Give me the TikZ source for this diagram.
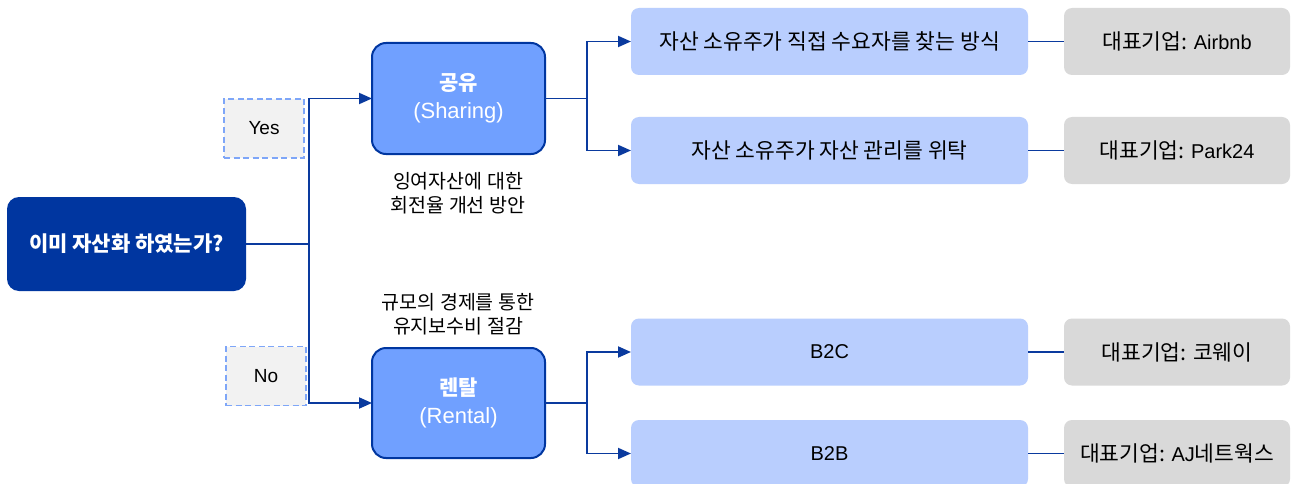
\documentclass[tikz,border=0pt]{standalone}
\usepackage{fontspec}
\setmainfont{Noto Sans CJK KR}
\newfontfamily\lat{Liberation Sans}
\usetikzlibrary{arrows.meta}
\definecolor{dblue}{HTML}{0036A0}
\definecolor{lineblue}{HTML}{0A3A9E}
\definecolor{midblue}{HTML}{70A0FF}
\definecolor{lightblue}{HTML}{B9CEFE}
\definecolor{graybox}{HTML}{D9D9D9}
\definecolor{dashblue}{HTML}{7EA6F8}
\definecolor{lbgray}{HTML}{F2F2F2}
\newcommand\latt[1]{{\lat\fontsize{20}{24}\selectfont #1}}
\tikzset{
  base/.style={outer sep=0pt, inner sep=0pt, align=center},
  mainbox/.style={base, fill=dblue, rounded corners=12pt, text=white, font=\fontsize{21}{26}\selectfont\bfseries},
  catbox/.style={base, fill=midblue, draw=dblue, line width=2pt, rounded corners=14pt, text=white, font=\fontsize{21}{28}\selectfont},
  subbox/.style={base, fill=lightblue, rounded corners=8pt, minimum width=397pt, minimum height=67pt, font=\fontsize{21.5}{26}\selectfont},
  firmbox/.style={base, fill=graybox, rounded corners=8pt, minimum width=226pt, minimum height=67pt, font=\fontsize{21.5}{26}\selectfont},
  tagbox/.style={base, fill=lbgray, draw=dashblue, line width=1.3pt, dash pattern=on 6pt off 3.5pt, minimum width=80pt, minimum height=59pt, font=\fontsize{19}{24}\selectfont\lat},
  caption/.style={base, font=\fontsize{19.5}{24}\selectfont},
  conn/.style={draw=lineblue, line width=1.9pt},
  arr/.style={conn, -{Triangle[length=13pt,width=11pt]}},
}
\begin{document}
\begin{tikzpicture}[x=1pt,y=-1pt]
\useasboundingbox (0,0) rectangle (1292,484);
\fill[white] (0,0) rectangle (1292,484);

\node[mainbox, minimum width=239pt, minimum height=94pt] (q) at (126.5,244) {이미 자산화 하였는가?};

\node[tagbox] (yes) at (264,128.5) {Yes};
\node[tagbox] (no) at (266,376) {No};

\node[catbox, minimum width=173pt, minimum height=111pt] (share) at (458.5,98.5) {\bfseries 공유\\{\lat\fontsize{22}{28}\selectfont(Sharing)}};
\node[catbox, minimum width=173pt, minimum height=110pt] (rent) at (458.5,403) {\bfseries 렌탈\\{\lat\fontsize{22}{28}\selectfont(Rental)}};

\node[caption] (c1) at (458,193) {잉여자산에 대한\\회전율 개선 방안};
\node[caption] (c2) at (458,314) {규모의 경제를 통한\\유지보수비 절감};

\node[subbox] (s1) at (829.5,41.5) {자산 소유주가 직접 수요자를 찾는 방식};
\node[subbox] (s2) at (829.5,150.5) {자산 소유주가 자산 관리를 위탁};
\node[subbox] (r1) at (829.5,352) {\latt{B2C}};
\node[subbox] (r2) at (829.5,453.5) {\latt{B2B}};

\node[firmbox] (f1) at (1177,41.5) {대표기업: \latt{Airbnb}};
\node[firmbox] (f2) at (1177,150.5) {대표기업: \latt{Park24}};
\node[firmbox] (f3) at (1177,352) {대표기업: 코웨이};
\node[firmbox] (f4) at (1177,453.5) {대표기업: \latt{AJ}네트웍스};

\coordinate (j1) at (309,244);
\coordinate (j2) at (587,98.5);
\coordinate (j3) at (587,403);

\draw[conn] (q.east) -- (j1);
\draw[arr] (j1) |- (share.west);
\draw[arr] (j1) |- (rent.west);

\draw[conn] (share.east) -- (j2);
\draw[arr] (j2) |- (s1.west);
\draw[arr] (j2) |- (s2.west);

\draw[conn] (rent.east) -- (j3);
\draw[arr] (j3) |- (r1.west);
\draw[arr] (j3) |- (r2.west);

\draw[conn] (s1.east) -- (f1.west);
\draw[conn] (s2.east) -- (f2.west);
\draw[conn] (r1.east) -- (f3.west);
\draw[conn] (r2.east) -- (f4.west);
\end{tikzpicture}
\end{document}
